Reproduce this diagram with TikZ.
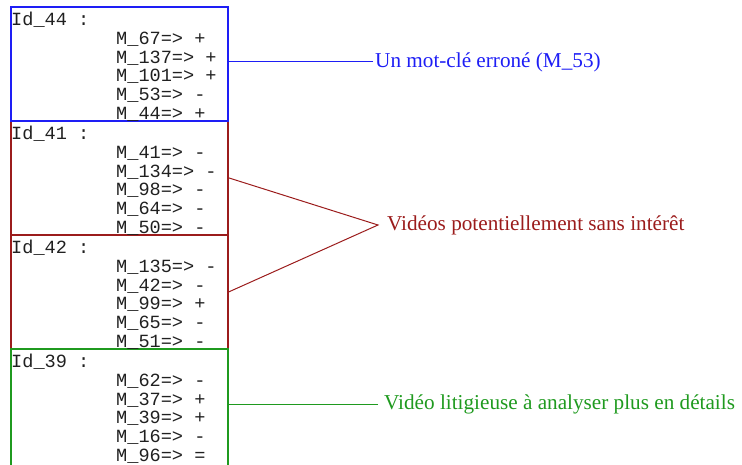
\documentclass[tikz,border=0pt]{standalone}
\usepackage{fontspec}
\usepackage{tikz}
\usetikzlibrary{calc}
\newfontfamily\codefont{Liberation Mono}
\newfontfamily\notefont{Liberation Serif}
\definecolor{bcol}{HTML}{1E1EF5}
\definecolor{rcol}{HTML}{9B1C1C}
\definecolor{gcol}{HTML}{1F9A1F}
\definecolor{tcol}{HTML}{202020}
\newcommand{\ind}{\hspace*{105pt}}

\begin{document}
\begin{tikzpicture}[x=1pt,y=-1pt,
  box/.style={draw=#1,line width=1.8pt,anchor=north west,inner sep=0pt,
    minimum width=217pt,minimum height=114pt},
  list/.style={anchor=north west,inner sep=0pt,align=left,text=tcol,
    font=\codefont\fontsize{18.6}{18.75}\selectfont},
  note/.style={anchor=west,inner ysep=2pt,text=#1,
    font=\notefont\fontsize{21.2}{26}\selectfont}]
\useasboundingbox (0,0) rectangle (742,465);
\clip (0,0) rectangle (742,465);
% boxes (one per video)
\node[box=rcol] (b41) at (10,120) {};
\node[box=rcol] (b42) at (10,234) {};
\node[box=gcol,minimum height=124pt] (b39) at (10,348) {};
\node[box=bcol] (b44) at (10,6) {};
% keywords of each video
\node[list] (t44) at ([shift={(1,6)}]b44.north west) {Id\_44 :\\
  \ind M\_67=> +\\ \ind M\_137=> +\\ \ind M\_101=> +\\ \ind M\_53=> -\\ \ind M\_44=> +};
\node[list] (t41) at ([shift={(1,6)}]b41.north west) {Id\_41 :\\
  \ind M\_41=> -\\ \ind M\_134=> -\\ \ind M\_98=> -\\ \ind M\_64=> -\\ \ind M\_50=> -};
\node[list] (t42) at ([shift={(1,6)}]b42.north west) {Id\_42 :\\
  \ind M\_135=> -\\ \ind M\_42=> -\\ \ind M\_99=> +\\ \ind M\_65=> -\\ \ind M\_51=> -};
\node[list] (t39) at ([shift={(1,6)}]b39.north west) {Id\_39 :\\
  \ind M\_62=> -\\ \ind M\_37=> +\\ \ind M\_39=> +\\ \ind M\_16=> -\\ \ind M\_96=> =};
% comments
\node[note=bcol,inner xsep=2pt] (n44) at (373,62) {Un mot-clé erroné (M\_53)};
\node[note=rcol,inner xsep=9pt] (n41) at (378,225) {Vidéos potentiellement sans intérêt};
\node[note=gcol,inner xsep=6pt] (n39) at (378,404) {Vidéo litigieuse à analyser plus en détails};
% connectors
\draw[bcol,line width=1pt] (n44.west) -- (n44.west -| b44.east);
\draw[rcol,line width=1pt] (b41.east) -- (n41.west) -- (b42.east);
\draw[gcol,line width=1pt] (n39.west) -- (n39.west -| b39.east);
\end{tikzpicture}
\end{document}
